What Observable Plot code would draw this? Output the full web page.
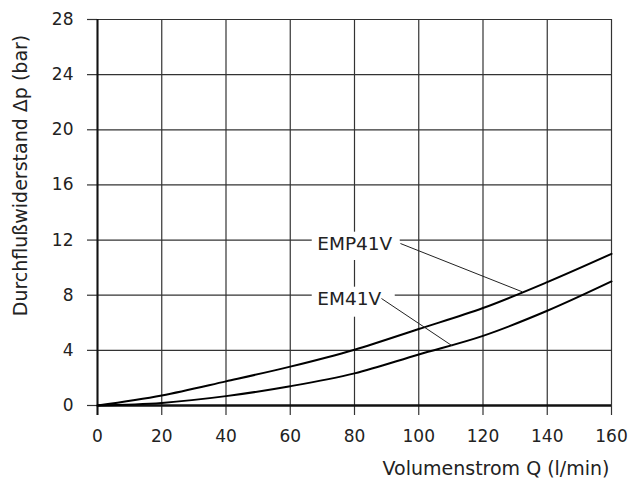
<!DOCTYPE html>
<html>
<head>
<meta charset="utf-8">
<script src="https://cdn.jsdelivr.net/npm/d3@7"></script>
<script src="https://cdn.jsdelivr.net/npm/@observablehq/plot@0.6"></script>
<style>
  html, body { margin: 0; padding: 0; background: white; }
</style>
</head>
<body>
<div id="chart"></div>
<script>
// Data
const flowQ = [0, 20, 40, 60, 80, 100, 120, 140, 160];           // Volumenstrom Q (l/min)
const dpEMP41V = [0, 0.73, 1.75, 2.82, 4.05, 5.55, 7.07, 8.95, 11.0]; // Δp (bar)
const dpEM41V = [0, 0.19, 0.68, 1.40, 2.33, 3.70, 5.05, 6.87, 9.0];   // Δp (bar)
const xTicks = [0, 20, 40, 60, 80, 100, 120, 140, 160];
const yTicks = [0, 4, 8, 12, 16, 20, 24, 28];
const seriesNames = ["EMP41V", "EM41V"];
// Annotation anchors (data units)
const labelQ = [68.4, 68.4];
const labelDp = [11.73, 7.74];
const leaderFromQ = [94.3, 88.4];
const leaderFromDp = [11.75, 7.76];
const leaderToQ = [132.2, 110.4];
const leaderToDp = [8.25, 4.33];

const rows = [];
flowQ.forEach((q, i) => {
  rows.push({series: seriesNames[0], q, dp: dpEMP41V[i]});
  rows.push({series: seriesNames[1], q, dp: dpEM41V[i]});
});
const labels = seriesNames.map((name, i) => ({
  name, x: labelQ[i], y: labelDp[i],
  x1: leaderFromQ[i], y1: leaderFromDp[i], x2: leaderToQ[i], y2: leaderToDp[i]
}));

// white knock-out box behind a label (grid lines are interrupted there)
const knockout = (datum, right, bottom) => Plot.rect([datum], {
  x1: "x", x2: "x", y1: "y", y2: "y", fill: "white",
  insetLeft: -5, insetRight: -right, insetTop: -11.6, insetBottom: -bottom
});

const chart = Plot.plot({
  width: 640,
  height: 486,
  marginLeft: 97,
  marginRight: 29,
  marginTop: 19,
  marginBottom: 81,
  style: {fontFamily: "DejaVu Sans", fontSize: "17px", color: "#222", background: "white"},
  x: {domain: [0, 160]},
  y: {domain: [0, 28]},
  marks: [
    Plot.gridX(xTicks, {stroke: "#333", strokeOpacity: 1, strokeWidth: 1.2}),
    Plot.gridY(yTicks, {stroke: "#333", strokeOpacity: 1, strokeWidth: 1.2}),
    Plot.axisX(xTicks, {tickSize: 10, tickPadding: 14, stroke: "#333", strokeWidth: 1.2, label: null, fontSize: 17}),
    Plot.axisY(yTicks, {tickSize: 10, tickPadding: 14, stroke: "#333", strokeWidth: 1.2, label: null, fontSize: 17}),
    Plot.ruleY([0], {stroke: "#111", strokeWidth: 2.6}),
    Plot.ruleX([0], {stroke: "#111", strokeWidth: 2, insetBottom: -10}),
    knockout(labels[0], 83, 16.7),
    knockout(labels[1], 78, 18.4),
    Plot.line(rows, {x: "q", y: "dp", z: "series", stroke: "#000", strokeWidth: 2, curve: "monotone-x"}),
    Plot.link(labels, {x1: "x1", y1: "y1", x2: "x2", y2: "y2", stroke: "#222", strokeWidth: 1}),
    Plot.text(labels, {x: "x", y: "y", text: "name", textAnchor: "start", fontSize: 18.5, fill: "#222"}),
    Plot.text(["Durchflußwiderstand Δp (bar)"], {frameAnchor: "left", textAnchor: "middle", dx: -77, dy: -37, rotate: -90,
      fontSize: 19, fill: "#222"}),
    Plot.text(["Volumenstrom Q (l/min)"], {frameAnchor: "bottom-right", textAnchor: "end", dx: -2, dy: 69,
      fontSize: 19, fill: "#222"})
  ]
});
document.getElementById("chart").appendChild(chart);
</script>
</body>
</html>
